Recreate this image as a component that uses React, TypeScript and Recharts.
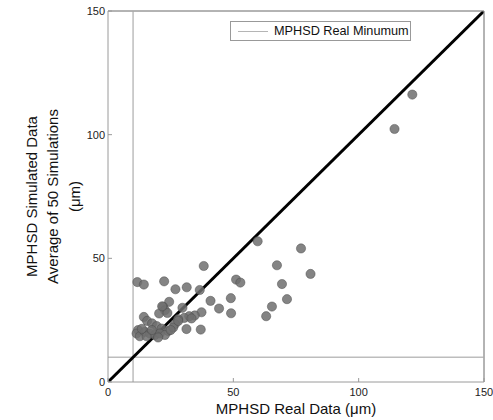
import React from "react";
import {
  ScatterChart,
  Scatter,
  XAxis,
  YAxis,
  ReferenceLine,
} from "recharts";

const realData: number[] = [
  11.7, 14.3, 22.4, 38.2, 26.9, 31.4, 36.6, 24.4, 22.0, 22.7, 20.4, 23.7, 29.7, 37.3, 34.6,
  32.4, 30.4, 28.0, 26.7, 31.3, 37.0, 40.9, 44.3, 49.0, 49.1, 51.1, 52.8, 59.7, 67.4, 69.4,
  71.4, 65.4, 63.1, 77.0, 80.8, 114.3, 121.4, 14.3, 15.6, 17.6, 19.4, 21.4, 24.0, 26.0, 12.0,
  11.4, 12.7, 14.7, 16.7, 18.7, 20.7, 22.7, 15.4, 20.0, 28.0, 33.3, 13.5, 17.5, 25.0, 21.6,
];
const simulatedAvg: number[] = [
  40.4, 39.4, 40.7, 46.9, 37.5, 38.3, 37.2, 32.4, 30.4, 29.0, 27.7, 27.9, 30.0, 28.2, 26.9,
  26.6, 25.9, 25.4, 23.4, 21.4, 21.2, 32.8, 29.7, 33.9, 27.8, 41.4, 40.2, 56.9, 47.2, 39.6,
  33.5, 30.5, 26.6, 54.0, 43.7, 102.3, 116.2, 26.3, 24.7, 23.7, 22.6, 21.6, 20.6, 22.0, 21.0,
  19.6, 18.5, 20.3, 19.6, 19.0, 19.6, 19.0, 18.5, 18.0, 24.7, 25.7, 21.5, 21.0, 21.0, 30.6,
];
const axisTicks: number[] = [0, 50, 100, 150];
const axisMax = 150;
const realMinimum = 10;
const legendLabel = "MPHSD Real Minumum";
const xLabel = "MPHSD Real Data (\u03bcm)";
const yLabelLines: string[] = ["MPHSD Simulated Data", "Average of 50 Simulations", "(\u03bcm)"];

const points = realData.map((x, i) => ({ x, y: simulatedAvg[i] }));

const FONT = "'Liberation Sans', Arial, sans-serif";
const AXIS_COLOR = "#9a9a9a";

const BottomTick = (props: any) => {
  const { x, y, payload } = props;
  return (
    <g>
      <line x1={x} y1={y} x2={x} y2={y - 4} stroke={AXIS_COLOR} />
      <text x={x} y={y + 14} textAnchor="middle" fontSize={11} fill="#222" fontFamily={FONT}>
        {payload.value}
      </text>
    </g>
  );
};

const LeftTick = (props: any) => {
  const { x, y, payload } = props;
  return (
    <g>
      <line x1={x} y1={y} x2={x + 4} y2={y} stroke={AXIS_COLOR} />
      <text x={x - 3} y={y + 4} textAnchor="end" fontSize={11} fill="#222" fontFamily={FONT}>
        {payload.value}
      </text>
    </g>
  );
};

const TopTick = (props: any) => {
  const { x, y } = props;
  return <line x1={x} y1={y} x2={x} y2={y + 4} stroke={AXIS_COLOR} />;
};

const RightTick = (props: any) => {
  const { x, y } = props;
  return <line x1={x} y1={y} x2={x - 4} y2={y} stroke={AXIS_COLOR} />;
};

const Dot = (props: any) => {
  const { cx, cy } = props;
  return <circle cx={cx} cy={cy} r={4.6} fill="#6e6e6e" fillOpacity={0.85} stroke="#4a4a4a" strokeOpacity={0.6} strokeWidth={0.8} />;
};

const YLabel = (props: any) => {
  const vb = props.viewBox || {};
  const cy = (vb.y ?? 0) + (vb.height ?? 0) / 2;
  const xs = [33, 54, 76];
  return (
    <g>
      {yLabelLines.map((t, i) => (
        <text
          key={i}
          x={xs[i]}
          y={cy}
          transform={`rotate(-90 ${xs[i]} ${cy})`}
          textAnchor="middle"
          dominantBaseline="middle"
          fontSize={15}
          fill="#111"
          fontFamily={FONT}
        >
          {t}
        </text>
      ))}
    </g>
  );
};

const XLabel = (props: any) => {
  const vb = props.viewBox || {};
  const cx = (vb.x ?? 0) + (vb.width ?? 0) / 2;
  return (
    <text x={cx} y={414} textAnchor="middle" fontSize={15} fill="#111" fontFamily={FONT}>
      {xLabel}
    </text>
  );
};

const LegendBox = () => (
  <div
    style={{
      position: "absolute",
      left: 230,
      top: 21,
      border: "1px solid #999",
      background: "#fff",
      width: 181,
      height: 20,
      display: "flex",
      alignItems: "center",
      fontFamily: FONT,
      fontSize: 12.7,
      color: "#111",
      boxSizing: "border-box",
      whiteSpace: "nowrap",
    }}
  >
    <div style={{ width: 30, height: 0, borderTop: "1.5px solid #b5b5b5", marginLeft: 7, marginRight: 6, flex: "none" }} />
    <span>{legendLabel}</span>
  </div>
);

export default function App() {
  return (
    <div style={{ position: "absolute", left: 0, top: 0, width: 493, height: 420, background: "#fff" }}>
      <ScatterChart width={493} height={420} margin={{ top: 10, right: 8, bottom: 0, left: 0 }}>
        <XAxis
          xAxisId="bottom"
          dataKey="x"
          type="number"
          domain={[0, axisMax]}
          ticks={axisTicks}
          allowDataOverflow
          height={38}
          stroke={AXIS_COLOR}
          tickLine={false}
          tickSize={0}
          tickMargin={0}
          tick={<BottomTick />}
          interval={0}
          label={<XLabel />}
        />
        <XAxis
          xAxisId="top"
          orientation="top"
          type="number"
          domain={[0, axisMax]}
          ticks={axisTicks}
          height={1}
          stroke={AXIS_COLOR}
          tickLine={false}
          tickSize={0}
          tickMargin={0}
          tick={<TopTick />}
          interval={0}
        />
        <YAxis
          yAxisId="left"
          dataKey="y"
          type="number"
          domain={[0, axisMax]}
          ticks={axisTicks}
          allowDataOverflow
          width={108}
          stroke={AXIS_COLOR}
          tickLine={false}
          tickSize={0}
          tickMargin={0}
          tick={<LeftTick />}
          interval={0}
          label={<YLabel />}
        />
        <YAxis
          yAxisId="right"
          orientation="right"
          type="number"
          domain={[0, axisMax]}
          ticks={axisTicks}
          width={1}
          stroke={AXIS_COLOR}
          tickLine={false}
          tickSize={0}
          tickMargin={0}
          tick={<RightTick />}
          interval={0}
        />
        <ReferenceLine xAxisId="bottom" yAxisId="left" y={axisMax} stroke={AXIS_COLOR} strokeWidth={1} />
        <ReferenceLine xAxisId="bottom" yAxisId="left" x={axisMax} stroke={AXIS_COLOR} strokeWidth={1} />
        <ReferenceLine xAxisId="bottom" yAxisId="left" x={realMinimum} stroke="#bdbdbd" strokeWidth={1.5} />
        <ReferenceLine xAxisId="bottom" yAxisId="left" y={realMinimum} stroke="#bdbdbd" strokeWidth={1.5} />
        <ReferenceLine
          xAxisId="bottom"
          yAxisId="left"
          segment={[
            { x: 0, y: 0 },
            { x: axisMax, y: axisMax },
          ]}
          stroke="#000"
          strokeWidth={3}
          ifOverflow="hidden"
        />
        <Scatter
          xAxisId="bottom"
          yAxisId="left"
          data={points}
          shape={<Dot />}
          isAnimationActive={false}
        />
      </ScatterChart>
      <LegendBox />
    </div>
  );
}
